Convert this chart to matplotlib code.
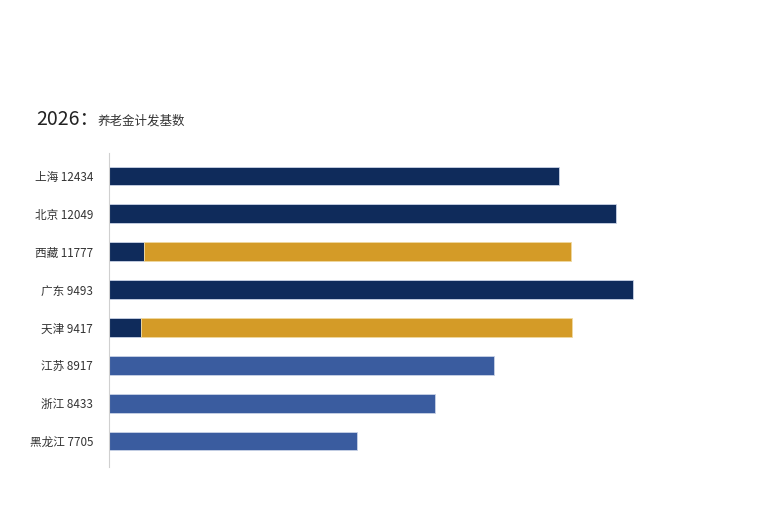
import matplotlib
matplotlib.use('Agg')
import matplotlib.pyplot as plt

plt.rcParams['font.family'] = ['Noto Sans CJK SC', 'DejaVu Sans']

# provinces and pension base, top to bottom
provinces = ['上海', '北京', '西藏', '广东', '天津', '江苏', '浙江', '黑龙江']
base_values = [12434, 12049, 11777, 9493, 9417, 8917, 8433, 7705]

# bar lengths as drawn in the picture (first segment, second segment)
first_part = [450, 507, 35, 525, 32, 386, 327, 248]
second_part = [0, 0, 427, 0, 431, 0, 0, 0]
first_colors = ['#0f2b5b', '#0f2b5b', '#0f2b5b', '#0f2b5b', '#0f2b5b',
                '#3a5c9f', '#3a5c9f', '#3a5c9f']
gold = '#d49b27'

fig = plt.figure(figsize=(7.68, 5.12), dpi=100)
ax = fig.add_axes([108.5 / 768, 1 - 467 / 512, 591.5 / 768, 314 / 512])

rows = list(range(len(provinces)))
ax.barh(rows, first_part, height=0.5, color=first_colors,
        edgecolor='#c9d3e6', linewidth=0.6)
# only the rows that have a second segment
seg_rows = [r for r in rows if second_part[r] > 0]
ax.barh(seg_rows, [second_part[r] for r in seg_rows],
        left=[first_part[r] for r in seg_rows], height=0.5, color=gold,
        edgecolor='#f0d9a0', linewidth=0.6)

ax.set_xlim(0, 591.5)
ax.set_ylim(7.687, -0.607)
ax.set_yticks(rows)
ax.set_yticklabels([p + ' ' + str(v) for p, v in zip(provinces, base_values)],
                   fontsize=8.4, color='#333333')
ax.tick_params(axis='y', length=0, pad=11)
ax.set_xticks([])
for s in ['top', 'right', 'bottom']:
    ax.spines[s].set_visible(False)
ax.spines['left'].set_color('#d0d0d0')
ax.spines['left'].set_linewidth(0.8)

fig.text(36 / 768, 1 - 125 / 512, '2026：', fontsize=14, color='#222222',
         va='baseline')
fig.text(98 / 768, 1 - 125 / 512, '养老金计发基数', fontsize=9,
         color='#333333', va='baseline')

fig.savefig('out.png', dpi=100)
